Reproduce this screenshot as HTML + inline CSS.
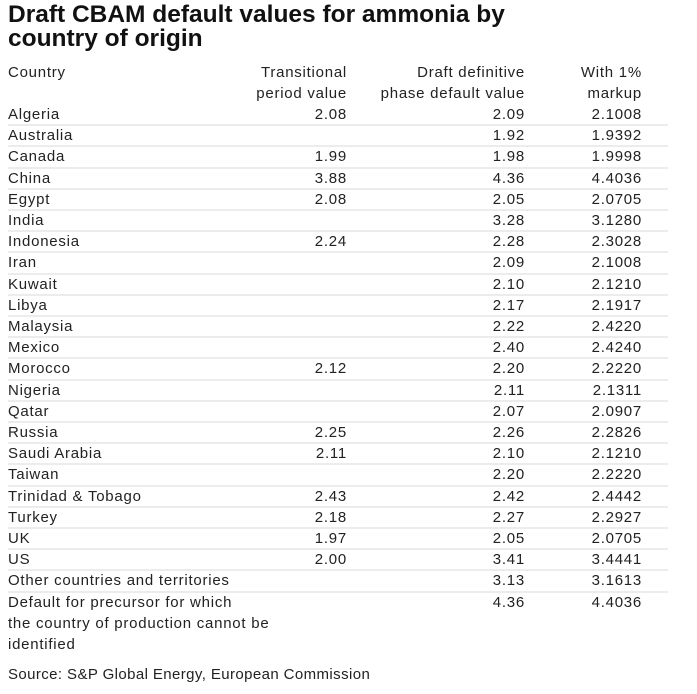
<!DOCTYPE html>
<html><head><meta charset="utf-8"><style>
body{margin:0;background:#fff;width:697px;height:694px;overflow:hidden;font-family:"Liberation Sans",sans-serif;color:#222;position:relative}
.t{position:absolute;white-space:nowrap;font-size:15px;letter-spacing:0.75px;line-height:21px}
.r{text-align:right}
.ln{position:absolute;left:8px;width:660px;height:2px;background:#ececec}
h1{position:absolute;left:8px;top:3px;margin:0;font-size:24.5px;line-height:24px;font-weight:bold;letter-spacing:0px;color:#111}
</style></head><body>
<h1>Draft CBAM default values for ammonia by<br>country of origin</h1>
<div class="t" style="left:8px;top:62px">Country</div>
<div class="t r" style="right:350px;top:62px">Transitional<br>period value</div>
<div class="t r" style="right:172px;top:62px">Draft definitive<br>phase default value</div>
<div class="t r" style="right:55px;top:62px">With 1%<br>markup</div>
<div id="tbl"></div>
<div class="t" style="left:8px;top:664px;letter-spacing:0.4px">Source: S&amp;P Global Energy, European Commission</div>
<script>
const countries=["Algeria","Australia","Canada","China","Egypt","India","Indonesia","Iran","Kuwait","Libya","Malaysia","Mexico","Morocco","Nigeria","Qatar","Russia","Saudi Arabia","Taiwan","Trinidad &amp; Tobago","Turkey","UK","US","Other countries and territories","Default for precursor for which<br>the country of production cannot be<br>identified"];
const transitional=["2.08","","1.99","3.88","2.08","","2.24","","","","","","2.12","","","2.25","2.11","","2.43","2.18","1.97","2.00","",""];
const definitive=["2.09","1.92","1.98","4.36","2.05","3.28","2.28","2.09","2.10","2.17","2.22","2.40","2.20","2.11","2.07","2.26","2.10","2.20","2.42","2.27","2.05","3.41","3.13","4.36"];
const markup=["2.1008","1.9392","1.9998","4.4036","2.0705","3.1280","2.3028","2.1008","2.1210","2.1917","2.4220","2.4240","2.2220","2.1311","2.0907","2.2826","2.1210","2.2220","2.4442","2.2927","2.0705","3.4441","3.1613","4.4036"];
const tbl=document.getElementById('tbl');
const top0=104,rh=21.2;
countries.forEach((c,i)=>{
  const y=top0+i*rh;
  if(i>0){const l=document.createElement('div');l.className='ln';l.style.top=(y-1)+'px';
  
  
  tbl.appendChild(l);}
  const cells=[[c,'left:8px',''],[transitional[i],'right:350px','r'],[definitive[i],'right:172px','r'],[markup[i],'right:55px','r']];
  cells.forEach((cl,j)=>{
    const d=document.createElement('div');d.className='t '+cl[2];
    d.setAttribute('style',cl[1]+';top:'+y+'px');
    d.innerHTML=cl[0];
    
    
    tbl.appendChild(d);
  });
});
</script>
</body></html>
